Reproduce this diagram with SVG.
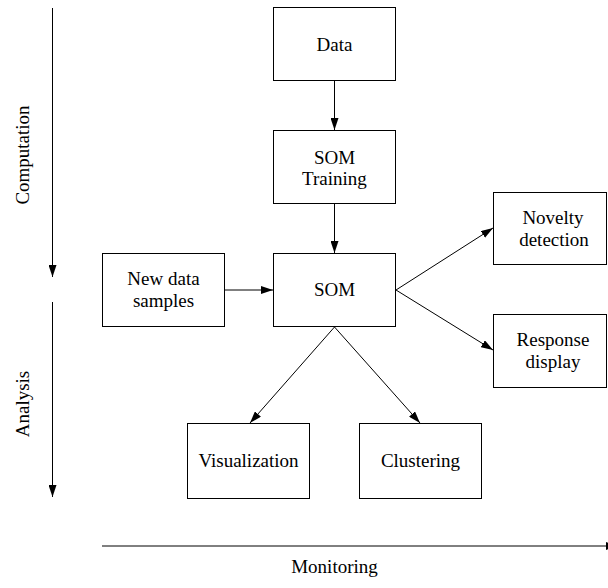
<svg xmlns="http://www.w3.org/2000/svg" width="608" height="588" viewBox="0 0 608 588">
<style>
.box{fill:#fff;stroke:#000;stroke-width:1}
text{font-family:'Liberation Serif','Times New Roman',Times,serif;font-size:19px;fill:#000;text-anchor:middle}
.ln{stroke:#000;stroke-width:1;fill:none;marker-end:url(#ah)}
</style>
<defs>
<marker id="ah" viewBox="0 0 12 8" refX="12" refY="4" markerWidth="12" markerHeight="8" markerUnits="userSpaceOnUse" orient="auto">
<path d="M0,0 L12,4 L0,8 Z" fill="#000"/>
</marker>
</defs>
<rect width="608" height="588" fill="#fff"/>
<g font-family="Liberation Serif, serif">
<g id="node-data"><rect class="box" x="273.5" y="7.5" width="122" height="73"/><text x="334.5" y="51">Data</text></g>
<g id="node-training"><rect class="box" x="273.5" y="130.5" width="122" height="73"/><text x="334.5" y="164">SOM</text><text x="334.5" y="185">Training</text></g>
<g id="node-som"><rect class="box" x="273.5" y="253.5" width="122" height="73"/><text x="334.5" y="296">SOM</text></g>
<g id="node-new"><rect class="box" x="102.5" y="253.5" width="122" height="73"/><text x="163.5" y="285">New data</text><text x="163.5" y="307">samples</text></g>
<g id="node-novelty"><rect class="box" x="493.5" y="192.5" width="113" height="72"/><text x="553" y="224">Novelty</text><text x="554" y="246">detection</text></g>
<g id="node-response"><rect class="box" x="493.5" y="314.5" width="113" height="73"/><text x="553" y="346">Response</text><text x="553" y="368">display</text></g>
<g id="node-vis"><rect class="box" x="187.5" y="423.5" width="122" height="75"/><text x="248.5" y="467">Visualization</text></g>
<g id="node-clust"><rect class="box" x="359.5" y="423.5" width="122" height="75"/><text x="420.5" y="467">Clustering</text></g>
<g id="connectors">
<line class="ln" x1="334.5" y1="81" x2="334.5" y2="130"/>
<line class="ln" x1="334.5" y1="204" x2="334.5" y2="253"/>
<line class="ln" x1="225" y1="290" x2="273" y2="290"/>
<line class="ln" x1="396" y1="290" x2="493" y2="228"/>
<line class="ln" x1="396" y1="290" x2="493" y2="350"/>
<line class="ln" x1="334.5" y1="327" x2="250" y2="423"/>
<line class="ln" x1="334.5" y1="327" x2="420" y2="423"/>
<line class="ln" x1="52.5" y1="8" x2="52.5" y2="277"/>
<line class="ln" x1="52.5" y1="302" x2="52.5" y2="497"/>
<line class="ln" x1="102" y1="546" x2="618" y2="546"/>
</g>
<text transform="translate(29,155) rotate(-90)">Computation</text>
<text transform="translate(29,404) rotate(-90)">Analysis</text>
<text x="334.5" y="573">Monitoring</text>
</g>
</svg>
